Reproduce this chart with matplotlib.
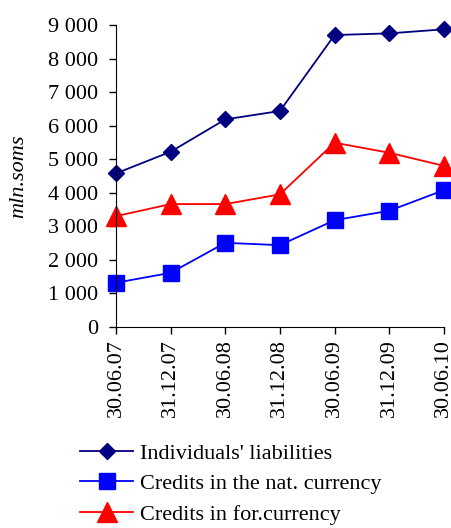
import matplotlib
matplotlib.use('Agg')
import matplotlib.pyplot as plt

dates = ["30.06.07", "31.12.07", "30.06.08", "31.12.08", "30.06.09", "31.12.09", "30.06.10"]
liabilities = [4575, 5220, 6185, 6435, 8700, 8750, 8870]
credits_nat = [1315, 1610, 2505, 2435, 3180, 3460, 4075]
credits_for = [3300, 3660, 3660, 3950, 5490, 5190, 4800]

plt.rcParams['font.family'] = ['Liberation Serif', 'DejaVu Serif']
fs = 16

fig = plt.figure(figsize=(4.52, 5.28), dpi=100)
ax = fig.add_axes([0.2566, 0.381, 0.7254, 0.5717])

x = range(len(dates))
ax.plot(x, liabilities, color='#000080', marker='D', markersize=8, lw=1.3,
        label="Individuals' liabilities", clip_on=False)
ax.plot(x, credits_nat, color='#0000FF', marker='s', markersize=12, lw=1.3,
        label="Credits in the nat. currency", clip_on=False)
ax.plot(x, credits_for, color='#FF0000', marker='^', markersize=14, lw=1.3,
        label="Credits in for.currency", clip_on=False)

ax.set_xlim(0, len(dates) - 1)
ax.set_ylim(0, 9000)
ax.set_yticks(range(0, 9001, 1000))
ax.set_yticklabels([f"{v:,}".replace(",", " ") for v in range(0, 9001, 1000)], fontsize=fs)
ax.set_xticks(list(x))
ax.set_xticklabels(dates, rotation=90, fontsize=fs)
ax.set_ylabel("mln.soms", fontsize=fs, style='italic', labelpad=14)

for s in ['top', 'right']:
    ax.spines[s].set_visible(False)
ax.tick_params(direction='out', length=5, width=1)
ax.tick_params(axis='y', pad=8)

# last row sits right at the bottom edge, like the original
fig.legend(loc='upper left', bbox_to_anchor=(0.177, 0.161), frameon=False,
           fontsize=fs, handlelength=2.4, labelspacing=0.45, borderpad=0,
           handletextpad=0.3, borderaxespad=0)

fig.savefig("out.png", dpi=100)
